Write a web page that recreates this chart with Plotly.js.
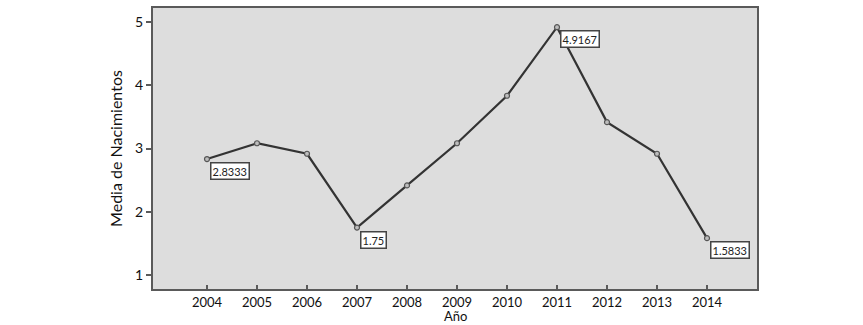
<!DOCTYPE html>
<html>
<head>
<meta charset="utf-8">
<script src="https://cdn.plot.ly/plotly-3.0.1.min.js"></script>
<style>html,body{margin:0;padding:0;background:#fff;}#chart{width:863px;height:325px;}</style>
</head>
<body>
<div id="chart"></div>
<script>
const years = [2004, 2005, 2006, 2007, 2008, 2009, 2010, 2011, 2012, 2013, 2014];
const means = [2.8333, 3.0833, 2.9167, 1.75, 2.4167, 3.0833, 3.8333, 4.9167, 3.4167, 2.9167, 1.5833];
const labelledYears = [2004, 2007, 2011, 2014];
const yTicks = [1, 2, 3, 4, 5];
const xTitle = 'Año';
const yTitle = 'Media de Nacimientos';

const annotations = labelledYears.map(function (yr) {
  const v = means[years.indexOf(yr)];
  return {
    x: yr, y: v, xref: 'x', yref: 'y',
    text: String(v), showarrow: false,
    xanchor: 'left', yanchor: 'top',
    xshift: 3, yshift: -3,
    bgcolor: '#ffffff', bordercolor: '#444', borderwidth: 1.5, borderpad: 1,
    font: {family: 'Lato, sans-serif', size: 11, color: '#222'}
  };
});
annotations.push({
  x: 0.5, y: 0, xref: 'paper', yref: 'paper',
  text: xTitle, showarrow: false,
  xanchor: 'center', yanchor: 'bottom', yshift: -36, borderpad: 0,
  font: {family: 'Lato, sans-serif', size: 13, color: '#111'}
});

const trace = {
  x: years, y: means, type: 'scatter', mode: 'lines+markers',
  line: {color: '#333333', width: 2.2},
  marker: {symbol: 'circle', size: 5, color: '#bdbdbd', line: {color: '#555', width: 1.2}},
  hoverinfo: 'skip'
};

const layout = {
  width: 863, height: 325,
  margin: {l: 153, r: 106, t: 8, b: 36},
  paper_bgcolor: '#ffffff', plot_bgcolor: '#dddddd',
  showlegend: false,
  font: {family: 'Lato, sans-serif', color: '#111'},
  xaxis: {
    range: [2002.92, 2015.0], tickvals: years, ticktext: years.map(String),
    showgrid: false, zeroline: false,
    showline: true, mirror: true, linecolor: '#5a5a5a', linewidth: 2,
    ticks: 'inside', ticklen: 4, tickcolor: '#5a5a5a', tickwidth: 2,
    tickfont: {size: 13, color: '#111'}
  },
  yaxis: {
    range: [0.78, 5.22], tickvals: yTicks,
    showgrid: false, zeroline: false,
    showline: true, mirror: true, linecolor: '#5a5a5a', linewidth: 2,
    ticks: 'outside', ticklen: 5, tickcolor: '#5a5a5a', tickwidth: 2,
    tickfont: {size: 14, color: '#111'},
    title: {text: yTitle, font: {size: 16, color: '#111'}, standoff: 8}
  },
  annotations: annotations
};

Plotly.newPlot('chart', [trace], layout, {displayModeBar: false, staticPlot: true});
</script>
</body>
</html>
